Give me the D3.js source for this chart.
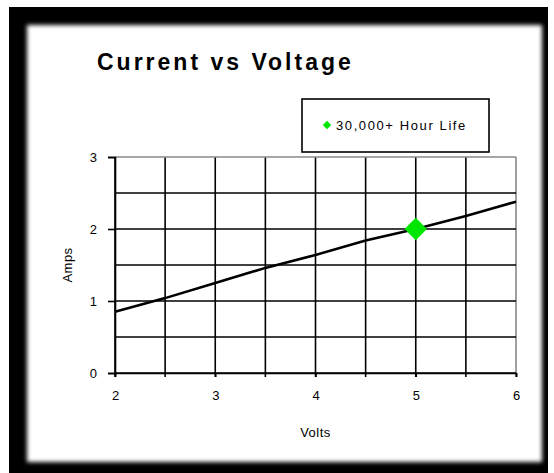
<!DOCTYPE html>
<html>
<head>
<meta charset="utf-8">
<script src="https://cdn.jsdelivr.net/npm/d3@7"></script>
<style>
    html, body { margin: 0; padding: 0; background: #fff; }
    svg { display: block; font-family: "Liberation Sans", Arial, sans-serif; }
</style>
</head>
<body>
<div id="chart"></div>
<script>
// chart data
var volts = [2, 2.5, 3, 3.5, 4, 4.5, 5, 5.5, 6];
var amps = [0.85, 1.04, 1.25, 1.46, 1.64, 1.84, 2.0, 2.18, 2.38];
var lifePoint = [{ v: 5, a: 2.0 }];
var xTicks = [2, 3, 4, 5, 6];
var yTicks = [0, 1, 2, 3];
var legendLabel = "30,000+ Hour Life";

(function () {
    var width = 554, height = 473;
    var svg = d3.select("#chart").append("svg").attr("width", width).attr("height", height);

    // black frame + soft white panel
    var defs = svg.append("defs");
    defs.append("filter").attr("id", "soft").attr("x", "-5%").attr("y", "-5%").attr("width", "110%").attr("height", "110%")
        .append("feGaussianBlur").attr("stdDeviation", 2.2);
    svg.append("rect").attr("x", 9).attr("y", 7).attr("width", 539).attr("height", 466).attr("fill", "#000");
    svg.append("rect").attr("x", 27).attr("y", 25).attr("width", 515).attr("height", 437).attr("fill", "#fff").attr("filter", "url(#soft)");

    // setup scales - plot area
    var x = d3.scaleLinear().domain([2, 6]).range([115, 516]);
    var y = d3.scaleLinear().domain([0, 3]).range([373, 157]);

    // gridlines every 0.5
    var grid = svg.append("g");
    grid.selectAll("line.v").data(d3.range(2, 6.01, 0.5)).enter().append("line").attr("class", "v")
        .attr("x1", function (d) { return x(d); }).attr("x2", function (d) { return x(d); })
        .attr("y1", y(3)).attr("y2", y(0) + 4)
        .attr("stroke", function (d) { return d === 6 ? "#888" : "#000"; }).attr("stroke-width", 1.6);
    grid.selectAll("line.h").data(d3.range(0, 3.01, 0.5)).enter().append("line").attr("class", "h")
        .attr("x1", x(2)).attr("x2", x(6))
        .attr("y1", function (d) { return y(d); }).attr("y2", function (d) { return y(d); })
        .attr("stroke", function (d) { return d === 3 ? "#888" : "#000"; }).attr("stroke-width", 1.6);

    // axes
    var xAxis = svg.append("g").attr("transform", "translate(0," + y(0) + ")")
        .call(d3.axisBottom(x).tickValues(xTicks).tickFormat(d3.format("d")).tickSize(4).tickPadding(14));
    var yAxis = svg.append("g").attr("transform", "translate(" + x(2) + ",0)")
        .call(d3.axisLeft(y).tickValues(yTicks).tickFormat(d3.format("d")).tickSize(7).tickPadding(11));
    [xAxis, yAxis].forEach(function (a) {
        a.select(".domain").attr("stroke", "#000").attr("stroke-width", 1.6);
        a.selectAll(".tick line").attr("stroke", "#000").attr("stroke-width", 1.6);
        a.selectAll(".tick text").attr("fill", "#000").style("font-size", "13px").style("font-family", "Liberation Sans, Arial, sans-serif");
    });

    // the current line
    var line = d3.line().x(function (d, i) { return x(volts[i]); }).y(function (d) { return y(d); });
    svg.append("path").datum(amps).attr("d", line).attr("fill", "none").attr("stroke", "#000").attr("stroke-width", 2.6);

    // diamond marker
    var diamond = d3.symbol().type(d3.symbolDiamond2);
    svg.selectAll("path.pt").data(lifePoint).enter().append("path").attr("class", "pt")
        .attr("d", diamond.size(320))
        .attr("transform", function (d) { return "translate(" + x(d.v) + "," + y(d.a) + ")"; })
        .attr("fill", "#00e600");

    // title + axis labels
    svg.append("text").attr("x", 97).attr("y", 70).text("Current vs Voltage")
        .style("font-size", "23px").style("font-weight", "bold").style("letter-spacing", "3px").attr("fill", "#000");
    svg.append("text").attr("x", x(4)).attr("y", 437).attr("text-anchor", "middle").text("Volts")
        .style("font-size", "13px").style("letter-spacing", "0.5px").attr("fill", "#000");
    svg.append("text").attr("transform", "translate(72," + y(1.5) + ") rotate(-90)").attr("text-anchor", "middle").text("Amps")
        .style("font-size", "13px").style("letter-spacing", "0.5px").attr("fill", "#000");

    // legend
    var lg = svg.append("g");
    lg.append("rect").attr("x", 302).attr("y", 99).attr("width", 187).attr("height", 53)
        .attr("fill", "#fff").attr("stroke", "#000").attr("stroke-width", 1.6);
    lg.append("path").attr("d", d3.symbol().type(d3.symbolDiamond2).size(45)())
        .attr("transform", "translate(327,125)").attr("fill", "#00e600");
    lg.append("text").attr("x", 336).attr("y", 130).text(legendLabel)
        .style("font-size", "13px").style("letter-spacing", "1.6px").attr("fill", "#000");
})();
</script>
</body>
</html>
